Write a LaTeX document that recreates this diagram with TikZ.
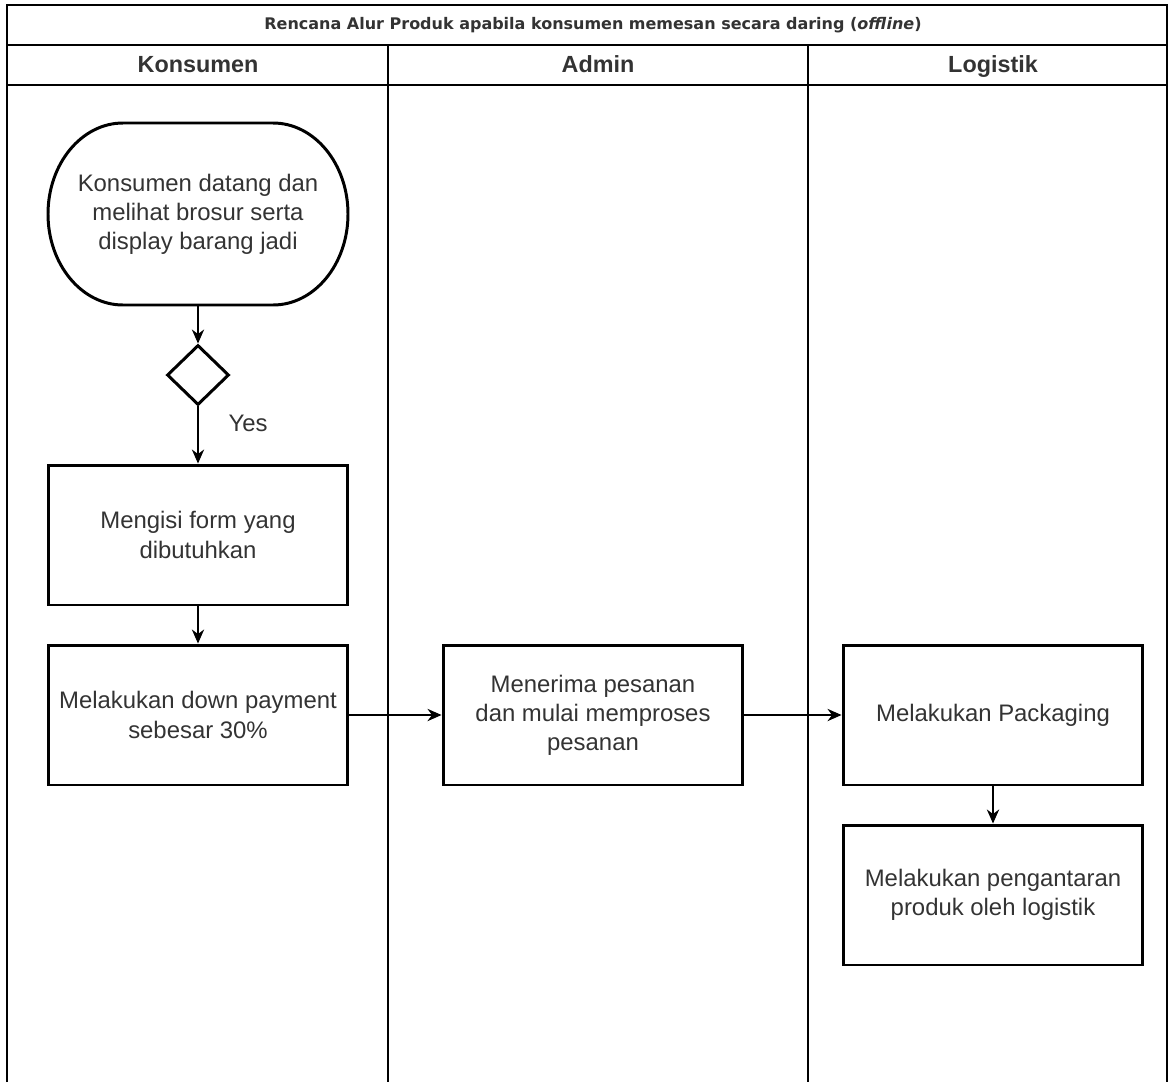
\documentclass[tikz,border=0pt]{standalone}
\usepackage{fontspec}
\setmainfont{Liberation Sans}
\newfontfamily\titlefont{DejaVu Sans}
\usetikzlibrary{shapes.geometric,arrows.meta}

\begin{document}
\begin{tikzpicture}[x=0.02cm,y=-0.02cm,
  every node/.style={font=\fontsize{13.6}{16.6}\selectfont, text=black!80, align=center, inner sep=0pt},
  lane/.style={line width=1.1pt},
  head/.style={font=\fontsize{13.3}{16}\selectfont\bfseries, anchor=base},
  stepbox/.style={draw, line width=1.7pt, minimum width=6cm, minimum height=2.8cm},
  arr/.style={line width=0.9pt, -{Stealth[length=8pt,width=7pt]}}]

\useasboundingbox (0,0) rectangle (1169,1082);

% lanes
\draw[lane] (7,1082) -- (7,5) -- (1167,5) -- (1167,1082);
\draw[lane] (7,45) -- (1167,45);
\draw[lane] (7,85) -- (1167,85);
\draw[lane] (388,45) -- (388,1082);
\draw[lane] (808,45) -- (808,1082);

\node (judul) at (593,25) {\titlefont\bfseries\fontsize{9.1}{11}\selectfont Rencana Alur Produk apabila konsumen memesan secara daring (\textit{offline})};
\node[head] (konsumen) at (198,72) {Konsumen};
\node[head] (admin) at (598,72) {Admin};
\node[head] (logistik) at (993,72) {Logistik};

% konsumen
\node (datang) [minimum width=6.04cm, minimum height=3.64cm] at (198,214) {Konsumen datang dan\\melihat brosur serta\\display barang jadi};
\draw[line width=1.7pt] (123,123) -- (273,123) arc[start angle=270, end angle=450, x radius=75, y radius=91]
  -- (123,305) arc[start angle=90, end angle=270, x radius=75, y radius=91] -- cycle;
\node (cek) [diamond, draw, line width=1.7pt, minimum width=1.24cm, minimum height=1.2cm] at (198,375) {};
\node (yes) at (248,423) {Yes};
\node (form) [stepbox] at (198,535) {Mengisi form yang\\dibutuhkan};
\node (dp) [stepbox] at (198,715) {Melakukan down payment\\sebesar 30\%};

% admin
\node (terima) [stepbox] at (593,715) {Menerima pesanan\\dan mulai memproses\\pesanan};

% logistik
\node (pack) [stepbox] at (993,715) {Melakukan Packaging};
\node (antar) [stepbox] at (993,895) {Melakukan pengantaran\\produk oleh logistik};

\draw[arr] (datang.south) -- (cek.north);
\draw[arr] (cek.south) -- (form.north);
\draw[arr] (form.south) -- (dp.north);
\draw[arr] (dp.east) -- (terima.west);
\draw[arr] (terima.east) -- (pack.west);
\draw[arr] (pack.south) -- (antar.north);
\end{tikzpicture}
\end{document}
